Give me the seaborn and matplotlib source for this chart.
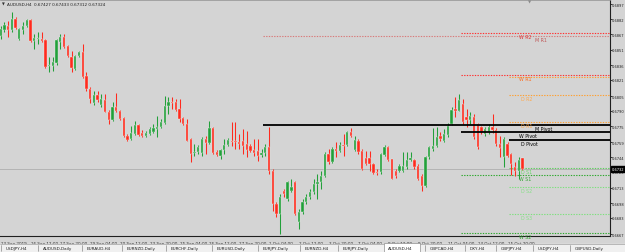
import numpy as np
import pandas as pd
import seaborn as sns
import matplotlib
matplotlib.use("Agg")
import matplotlib.pyplot as plt
from matplotlib.patches import Rectangle

# ---------------- data (AUDUSD H4 candles) ----------------
opens = [0.6865, 0.6871, 0.6875, 0.6871, 0.6882, 0.6862, 0.6871, 0.6875, 0.6881, 0.6860,
         0.6862, 0.6862, 0.6861, 0.6835, 0.6835, 0.6838, 0.6859, 0.6864, 0.6855, 0.6844,
         0.6832, 0.6845, 0.6849, 0.6825, 0.6812, 0.6798, 0.6806, 0.6796, 0.6801, 0.6789,
         0.6781, 0.6794, 0.6790, 0.6783, 0.6765, 0.6762, 0.6767, 0.6776, 0.6768, 0.6765,
         0.6767, 0.6769, 0.6772, 0.6774, 0.6778, 0.6795, 0.6799, 0.6799, 0.6792, 0.6783,
         0.6777, 0.6762, 0.6748, 0.6749, 0.6748, 0.6762, 0.6758, 0.6773, 0.6749, 0.6745,
         0.6751, 0.6756, 0.6760, 0.6760, 0.6759, 0.6760, 0.6757, 0.6755, 0.6751, 0.6750,
         0.6746, 0.6748, 0.6754, 0.6730, 0.6697, 0.6687, 0.6710, 0.6702, 0.6710, 0.6719,
         0.6679, 0.6689, 0.6699, 0.6704, 0.6709, 0.6717, 0.6719, 0.6725, 0.6747, 0.6739,
         0.6752, 0.6750, 0.6756, 0.6756, 0.6769, 0.6751, 0.6760, 0.6750, 0.6743, 0.6743,
         0.6737, 0.6729, 0.6729, 0.6746, 0.6754, 0.6742, 0.6730, 0.6730, 0.6730, 0.6734,
         0.6741, 0.6741, 0.6735, 0.6725, 0.6715, 0.6744, 0.6752, 0.6755, 0.6765, 0.6760,
         0.6766, 0.6777, 0.6792, 0.6790, 0.6797, 0.6784, 0.6781, 0.6784, 0.6777, 0.6774,
         0.6767, 0.6769, 0.6774, 0.6771, 0.6757, 0.6744, 0.6757, 0.6747, 0.6734, 0.6730,
         0.67427]
closes = [0.6872, 0.6876, 0.6871, 0.6882, 0.6873, 0.6872, 0.6875, 0.6881, 0.6860, 0.6863,
          0.6862, 0.6860, 0.6834, 0.6835, 0.6839, 0.6861, 0.6864, 0.6854, 0.6845, 0.6833,
          0.6845, 0.6849, 0.6824, 0.6812, 0.6802, 0.6806, 0.6801, 0.6802, 0.6789, 0.6781,
          0.6794, 0.6790, 0.6782, 0.6765, 0.6761, 0.6768, 0.6776, 0.6766, 0.6765, 0.6768,
          0.6772, 0.6773, 0.6774, 0.6779, 0.6795, 0.6799, 0.6798, 0.6791, 0.6782, 0.6777,
          0.6760, 0.6747, 0.6749, 0.6754, 0.6762, 0.6758, 0.6773, 0.6748, 0.6746, 0.6751,
          0.6756, 0.6761, 0.6759, 0.6759, 0.6757, 0.6755, 0.6751, 0.6750, 0.6748, 0.6745,
          0.6748, 0.6754, 0.6730, 0.6697, 0.6687, 0.6704, 0.6707, 0.6719, 0.6714, 0.6687,
          0.6689, 0.6699, 0.6704, 0.6709, 0.6717, 0.6719, 0.6725, 0.6747, 0.6739, 0.6752,
          0.6750, 0.6756, 0.6755, 0.6769, 0.6765, 0.6761, 0.6749, 0.6732, 0.6737, 0.6737,
          0.6728, 0.6728, 0.6747, 0.6754, 0.6741, 0.6722, 0.6725, 0.6735, 0.6735, 0.6741,
          0.6743, 0.6734, 0.6722, 0.6715, 0.6744, 0.6754, 0.6755, 0.6764, 0.6762, 0.6767,
          0.6775, 0.6791, 0.6790, 0.6801, 0.6779, 0.6781, 0.6785, 0.6764, 0.6754, 0.6769,
          0.6772, 0.6774, 0.6771, 0.6757, 0.6753, 0.6762, 0.6745, 0.6737, 0.6730, 0.6741,
          0.67324]
highs = [0.6875, 0.6879, 0.6880, 0.6889, 0.6884, 0.6873, 0.6879, 0.6882, 0.6882, 0.6867,
         0.6869, 0.6869, 0.6862, 0.6844, 0.6844, 0.6862, 0.6867, 0.6867, 0.6856, 0.6850,
         0.6846, 0.6850, 0.6857, 0.6829, 0.6814, 0.6810, 0.6810, 0.6807, 0.6807, 0.6791,
         0.6799, 0.6808, 0.6791, 0.6784, 0.6767, 0.6775, 0.6780, 0.6777, 0.6771, 0.6770,
         0.6774, 0.6777, 0.6785, 0.6782, 0.6805, 0.6804, 0.6804, 0.6802, 0.6802, 0.6784,
         0.6782, 0.6763, 0.6757, 0.6756, 0.6764, 0.6765, 0.6780, 0.6774, 0.6751, 0.6752,
         0.6762, 0.6763, 0.6779, 0.6779, 0.6767, 0.6772, 0.6770, 0.6757, 0.6762, 0.6762,
         0.6752, 0.6757, 0.6774, 0.6732, 0.6699, 0.6707, 0.6712, 0.6720, 0.6722, 0.6720,
         0.6692, 0.6702, 0.6707, 0.6712, 0.6722, 0.6727, 0.6730, 0.6749, 0.6752, 0.6754,
         0.6759, 0.6759, 0.6767, 0.6770, 0.6773, 0.6765, 0.6762, 0.6752, 0.6750, 0.6750,
         0.6738, 0.6732, 0.6748, 0.6756, 0.6755, 0.6742, 0.6732, 0.6737, 0.6749, 0.6749,
         0.6749, 0.6742, 0.6737, 0.6727, 0.6745, 0.6755, 0.6773, 0.6774, 0.6769, 0.6772,
         0.6778, 0.6794, 0.6804, 0.6807, 0.6802, 0.6792, 0.6789, 0.6787, 0.6778, 0.6775,
         0.6774, 0.6777, 0.6787, 0.6773, 0.6765, 0.6764, 0.6759, 0.6748, 0.6739, 0.6744,
         0.67433]
lows = [0.6862, 0.6869, 0.6864, 0.6869, 0.6872, 0.6861, 0.6867, 0.6874, 0.6859, 0.6852,
        0.6857, 0.6859, 0.6833, 0.6829, 0.6830, 0.6836, 0.6852, 0.6853, 0.6844, 0.6829,
        0.6831, 0.6844, 0.6823, 0.6810, 0.6798, 0.6796, 0.6799, 0.6794, 0.6789, 0.6777,
        0.6780, 0.6789, 0.6781, 0.6764, 0.6760, 0.6761, 0.6766, 0.6765, 0.6764, 0.6764,
        0.6766, 0.6768, 0.6764, 0.6773, 0.6777, 0.6787, 0.6792, 0.6790, 0.6779, 0.6776,
        0.6760, 0.6739, 0.6745, 0.6747, 0.6745, 0.6747, 0.6757, 0.6747, 0.6745, 0.6742,
        0.6747, 0.6755, 0.6755, 0.6752, 0.6752, 0.6747, 0.6744, 0.6749, 0.6745, 0.6740,
        0.6744, 0.6745, 0.6727, 0.6690, 0.6684, 0.6667, 0.6704, 0.6700, 0.6709, 0.6686,
        0.6672, 0.6687, 0.6697, 0.6702, 0.6707, 0.6702, 0.6712, 0.6724, 0.6737, 0.6738,
        0.6744, 0.6749, 0.6745, 0.6755, 0.6764, 0.6750, 0.6747, 0.6731, 0.6736, 0.6730,
        0.6727, 0.6726, 0.6727, 0.6745, 0.6740, 0.6722, 0.6723, 0.6729, 0.6729, 0.6732,
        0.6740, 0.6732, 0.6721, 0.6710, 0.6714, 0.6742, 0.6750, 0.6754, 0.6760, 0.6759,
        0.6764, 0.6776, 0.6784, 0.6790, 0.6777, 0.6774, 0.6777, 0.6762, 0.6752, 0.6767,
        0.6765, 0.6767, 0.6768, 0.6755, 0.6744, 0.6734, 0.6744, 0.6726, 0.6725, 0.6722,
        0.67312]

date_labels = ["13 Sep 2019", "16 Sep 12:00", "17 Sep 20:00", "19 Sep 04:00", "20 Sep 12:00",
               "23 Sep 20:00", "25 Sep 04:00", "26 Sep 12:00", "27 Sep 20:00", "1 Oct 04:00",
               "2 Oct 12:00", "3 Oct 20:00", "7 Oct 04:00", "8 Oct 12:00", "9 Oct 20:00",
               "11 Oct 04:00", "14 Oct 12:00", "15 Oct 20:00"]
bars_per_label = 8

price_ticks = [0.6897, 0.6882, 0.6867, 0.6851, 0.6836, 0.6821, 0.6805, 0.6790,
               0.6775, 0.6759, 0.6744, 0.6729, 0.6713, 0.6698, 0.6683, 0.6667]

# pivot levels: name, price, start bar
pivot_names = ["M R1", "W R2", "W R1", "D R3", "D R2", "D R1", "M Pivot", "W Pivot",
               "D Pivot", "D S1", "W S1", "D S2", "D S3", "W S2"]
pivot_levels = [0.6865, 0.6868, 0.6826, 0.6824, 0.6806, 0.6779, 0.6776, 0.6769,
                0.6761, 0.6733, 0.6726, 0.6714, 0.6687, 0.6668]
period_start = {"M": 71, "W": 124, "D": 137}
bid = 0.67324

tabs = ["USDJPY,H4", "AUDUSD,Daily", "EURAUD,H4", "EURNZD,Daily", "EURCHF,Daily",
        "EURUSD,Daily", "EURJPY,Daily", "EURNZD,H4", "EURJPY,Daily", "AUDUSD,H4",
        "GBPCAD,H4", "DXY,H4", "GBPJPY,H4", "USDJPY,H4", "GBPUSD,Daily"]
active_tab = "AUDUSD,H4"

# ---------------- style ----------------
BG = "#d4d4d4"
BULL = "#22a03a"
BEAR = "#ff2a1e"
sns.set_style("white", {"axes.facecolor": BG, "figure.facecolor": BG})
plt.rcParams["font.family"] = ["DejaVu Sans"]

W, H = 625, 253
fig = plt.figure(figsize=(W / 100, H / 100), dpi=100)
fig.patch.set_facecolor(BG)
ax = fig.add_axes([0, (H - 237) / H, 610 / W, (237 - 1) / H])
ax.set_facecolor(BG)

df = pd.DataFrame({"open": opens, "high": highs, "low": lows, "close": closes})
df["idx"] = np.arange(len(df))
df["bull"] = df["close"] >= df["open"]
df["color"] = np.where(df["bull"], BULL, BEAR)

# bid line
sns.lineplot(x=[-1, 170], y=[bid, bid], ax=ax, color="#b4b4b4", lw=0.7, zorder=1)

# wicks
ax.vlines(df["idx"], df["low"], df["high"], colors=df["color"], lw=0.75, zorder=3)
# bodies
bot = np.minimum(df["open"], df["close"])
hgt = np.maximum(np.abs(df["close"] - df["open"]), 0.00006)
ax.bar(df["idx"], hgt, bottom=bot, width=0.62, color=df["color"],
       edgecolor="#eef5ee", linewidth=0.25, zorder=4)

# pivot lines
pcolors = {"M R1": "#d87a7a", "W R2": "#ff3030", "W R1": "#ff3030", "D R3": "#ffa030",
           "D R2": "#ffa030", "D R1": "#ffa030", "M Pivot": "black", "W Pivot": "black",
           "D Pivot": "black", "D S1": "#5cd05c", "W S1": "#2ca82c", "D S2": "#7ee07e",
           "D S3": "#7ee07e", "W S2": "#2ca82c"}
tcolors = {"M R1": "#c05858", "W R2": "#e03a3a", "W R1": "#ff6a1a", "D R3": None,
           "D R2": "#ffa84a", "D R1": "#ffa84a", "M Pivot": "black", "W Pivot": "black",
           "D Pivot": "black", "D S1": "#6ad86a", "W S1": "#34a834", "D S2": "#86e086",
           "D S3": "#86e086", "W S2": "#34a834"}
label_x = {"M": 143.3, "W": 139.0, "D": 139.6}
XMAX = 163.5
for name, lvl in zip(pivot_names, pivot_levels):
    per = name[0]
    st = period_start[per] - 0.5
    if "Pivot" in name:
        ax.hlines(lvl, st, XMAX, colors="black", lw=1.3, zorder=5)
    else:
        ax.hlines(lvl, st, XMAX, colors=pcolors[name], lw=0.8,
                  linestyles=(0, (1.2, 1.2)), zorder=2)
    if tcolors[name]:
        ax.text(label_x[per], lvl - 0.00036, name, fontsize=3.4, color=tcolors[name],
                va="center", ha="left", zorder=6)

ax.set_xlim(-0.19, XMAX)
ax.set_ylim(0.6665, 0.6901)

# axes frame
for s in ["left", "top"]:
    ax.spines[s].set_visible(False)
ax.spines["right"].set_color("#202020")
ax.spines["bottom"].set_color("#202020")
ax.spines["right"].set_linewidth(0.8)
ax.spines["bottom"].set_linewidth(0.8)

ax.yaxis.tick_right()
ax.set_yticks(price_ticks)
ax.set_yticklabels([f"{p:.4f}" for p in price_ticks], fontsize=2.6, color="#202020")
ax.tick_params(axis="y", length=1.2, width=0.6, pad=0.3, colors="#202020")

xt = [i * bars_per_label for i in range(len(date_labels))]
ax.set_xticks(xt)
ax.set_xticklabels(date_labels, fontsize=3.0, color="#202020")
for lab in ax.get_xticklabels():
    lab.set_horizontalalignment("left")
ax.tick_params(axis="x", length=3, width=0.5, pad=0.8, colors="#202020")

# top border
fig.add_artist(plt.Line2D([0, 610 / W], [(H - 1) / H] * 2, color="#9a9a9a", lw=0.6))

# current price box
fig.patches.append(Rectangle((611 / W, (H - 173) / H), 14 / W, 6 / H,
                             transform=fig.transFigure, color="black", zorder=10))
fig.text(611.5 / W, (H - 170) / H, f"{bid:.4f}", fontsize=2.6, color="white",
         va="center", ha="left", zorder=11)

# header
fig.text(1.5 / W, (H - 5) / H, "▼", fontsize=2.6, color="#303030", va="center")
fig.text(7 / W, (H - 5) / H,
         f"AUDUSD,H4  {opens[-1]:.5f} {highs[-1]:.5f} {lows[-1]:.5f} {closes[-1]:.5f}",
         fontsize=3.0, color="#202020", va="center", ha="left")
fig.text(530 / W, (H - 2.5) / H, "▼", fontsize=3, color="#8a8a8a", va="center", ha="center")

# tabs row
fig.patches.append(Rectangle((0, 0), 1, 8.5 / H, transform=fig.transFigure,
                             color="#f0f0f0", zorder=1))
fig.add_artist(plt.Line2D([0, 1], [8.5 / H] * 2, color="#a0a0a0", lw=0.5))
tab_x = [6, 43, 87, 127, 171, 217, 263, 305, 343, 388, 430, 470, 501, 538, 575]
for tx, name in zip(tab_x, tabs):
    if name == active_tab:
        fig.patches.append(Rectangle((384 / W, 0), 36 / W, 9 / H, transform=fig.transFigure,
                                     facecolor="white", edgecolor="#909090", lw=0.5, zorder=2))
    else:
        fig.add_artist(plt.Line2D([(tx - 5) / W] * 2, [1.5 / H, 7 / H], color="#707070", lw=0.4))
    fig.text(tx / W, 4 / H, name, fontsize=3.0, color="#202020", va="center", ha="left",
             zorder=3)

fig.savefig("out.png", dpi=100, facecolor=BG)
